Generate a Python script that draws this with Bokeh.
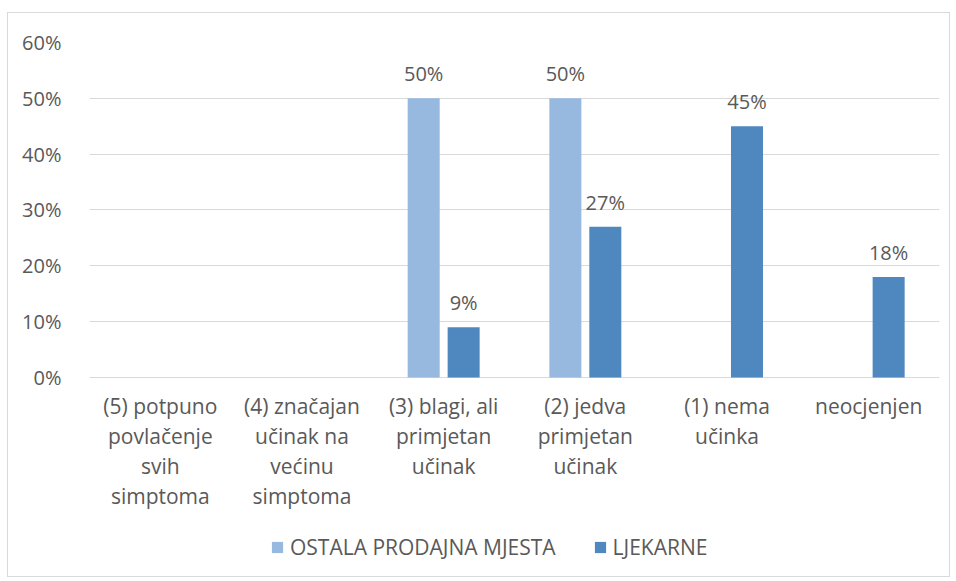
from bokeh.plotting import figure
from bokeh.models import ColumnDataSource, NumeralTickFormatter, Legend, LegendItem, LabelSet, FixedTicker
from bokeh.transform import dodge
from bokeh.core.properties import value
from bokeh.embed import file_html
from bokeh.resources import INLINE

categories = ["(5) potpuno\npovlačenje\nsvih\nsimptoma",
              "(4) značajan\nučinak na\nvećinu\nsimptoma",
              "(3) blagi, ali\nprimjetan\nučinak",
              "(2) jedva\nprimjetan\nučinak",
              "(1) nema\nučinka",
              "neocjenjen"]
ostala = [0, 0, 0.50, 0.50, 0, 0]
ljekarne = [0, 0, 0.09, 0.27, 0.45, 0.18]
series_names = ["OSTALA PRODAJNA MJESTA", "LJEKARNE"]
y_ticks = [0, 0.1, 0.2, 0.3, 0.4, 0.5, 0.6]

LIGHT = "#97B9E0"
DARK = "#4F88BF"
GRID = "#D9D9D9"
TXT = "#595959"
FONT = "Open Sans"
FS = "20px"

# the plotting frame also hosts the category labels and the legend below the 0% line
Y_MIN = -0.3565
src = ColumnDataSource(dict(cat=categories, ostala=ostala, ljekarne=ljekarne))

p = figure(x_range=categories, y_range=(Y_MIN, max(y_ticks)), frame_width=850, frame_height=534,
           min_border_left=81, min_border_right=10, min_border_top=29, min_border_bottom=0,
           output_backend="svg", toolbar_location=None)
p.styles = {"border": "1px solid #D9D9D9", "margin-left": "7px", "margin-top": "12px"}

r1 = p.vbar(x=dodge("cat", -0.141, range=p.x_range), top="ostala", width=0.226, source=src,
            fill_color=LIGHT, line_color=None)
r2 = p.vbar(x=dodge("cat", 0.141, range=p.x_range), top="ljekarne", width=0.226, source=src,
            fill_color=DARK, line_color=None)

# data labels (non-zero only)
for vals, off in ((ostala, -0.141), (ljekarne, 0.141)):
    xs = [c for c, v in zip(categories, vals) if v > 0]
    ys = [v for v in vals if v > 0]
    ts = [f"{round(v*100)}%" for v in ys]
    s = ColumnDataSource(dict(x=xs, y=ys, t=ts))
    p.add_layout(LabelSet(x=dodge("x", off, range=p.x_range), y="y", text="t", source=s,
                          text_align="center", text_baseline="bottom", y_offset=11,
                          text_font=value(FONT), text_font_size=FS, text_color=TXT))

# category labels under the 0% line, each line centred on its category
max_lines = max(len(c.split("\n")) for c in categories)
for i in range(max_lines):
    xs = [c for c in categories if len(c.split("\n")) > i]
    ts = [c.split("\n")[i] for c in xs]
    s = ColumnDataSource(dict(x=xs, y=[0] * len(xs), t=ts))
    p.add_layout(LabelSet(x="x", y="y", text="t", source=s,
                          text_align="center", text_baseline="top", y_offset=-15 - 29.7 * i,
                          text_font=value(FONT), text_font_size="21px", text_color=TXT))

p.outline_line_color = None
p.xgrid.grid_line_color = None
p.ygrid.grid_line_color = GRID
p.ygrid.grid_line_width = 1
p.xaxis.visible = False
p.yaxis.ticker = FixedTicker(ticks=y_ticks)
p.yaxis.formatter = NumeralTickFormatter(format="0%")
p.yaxis.axis_line_color = None
p.yaxis.major_tick_line_color = None
p.yaxis.minor_tick_line_color = None
p.yaxis.major_label_standoff = 22
p.yaxis.major_label_text_font = FONT
p.yaxis.major_label_text_color = TXT
p.yaxis.major_label_text_font_size = FS

legend = Legend(items=[LegendItem(label=series_names[0], renderers=[r1]),
                       LegendItem(label=series_names[1], renderers=[r2])],
                orientation="horizontal", location=(181, 15),
                padding=0, margin=0, spacing=37, glyph_width=14, glyph_height=14,
                label_text_font=FONT, label_text_font_size="21px", label_text_color=TXT,
                label_standoff=6, border_line_color=None, background_fill_alpha=0)
p.add_layout(legend, "center")

open("out.html", "w").write(file_html(p, INLINE))
